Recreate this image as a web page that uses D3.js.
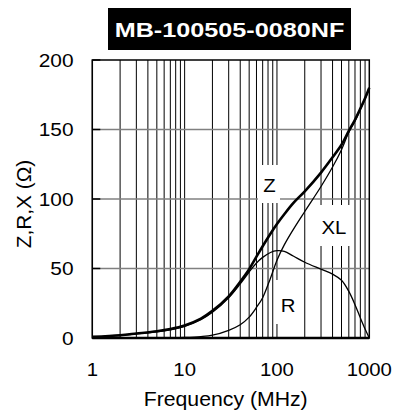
<!DOCTYPE html>
<html>
<head>
<meta charset="utf-8">
<script src="https://cdn.jsdelivr.net/npm/d3@7"></script>
<style>
  html, body { margin: 0; padding: 0; background: #fff; }
  svg text { font-family: "Liberation Sans", Arial, sans-serif; }
</style>
</head>
<body>
<div id="container"></div>
<script>
// values
var title = "MB-100505-0080NF"
var freq = [1, 2, 3, 5, 7, 10, 15, 20, 30, 40, 50, 60, 70, 85, 100, 120, 150, 200, 300, 400, 500, 600, 700, 800, 900, 1000]
var zVals = [0.8, 2, 3.2, 4.8, 6.4, 9, 14, 19.5, 30, 40.5, 49.5, 58.5, 66, 75, 82, 89, 97, 105.5, 119, 130, 139, 149, 157, 165, 172.5, 180]
var rVals = [0.6, 1.8, 3, 4.4, 6, 8.4, 13.2, 18.5, 29, 39, 47.5, 54, 58, 61.5, 62.8, 62.3, 59, 54.5, 49.5, 46, 41.5, 33.5, 24, 14.5, 6.5, 0]
var xlVals = [0, 0, 0, 0.1, 0.2, 0.4, 1, 2, 5.5, 9.5, 15, 22, 29, 43, 56, 67, 78, 91, 109, 123, 135.5, 148, 156, 164.5, 172, 179.5]
var xTicks = [1, 10, 100, 1000]
var yTicks = [0, 50, 100, 150, 200]
var labelNames = ["Z", "XL", "R"]
var labelBoxes = [[258, 165, 22, 38], [315, 205, 37, 41], [275, 280, 25, 44]]
var labelBaselines = [191.6, 234, 311.6]

var W = 393, H = 413
var svg = d3.select("#container").append("svg").attr("width", W).attr("height", H)

var xScale = d3.scaleLog().domain([1, 1000]).range([92.3, 369.3])
var yScale = d3.scaleLinear().domain([0, 200]).range([338, 60])

// vertical grid: every 1..9 of each decade
var gridF = []
for (var k = 0; k < 3; k++) {
  for (var m = 1; m < 10; m++) gridF.push(m * Math.pow(10, k))
}
svg.selectAll(".vgrid").data(gridF).enter().append("line")
  .attr("class", "vgrid")
  .attr("x1", function(d){ return xScale(d) }).attr("x2", function(d){ return xScale(d) })
  .attr("y1", yScale(200)).attr("y2", yScale(0))
  .attr("stroke", "#000").attr("stroke-width", 1)

svg.selectAll(".hgrid").data([50, 100, 150]).enter().append("line")
  .attr("class", "hgrid")
  .attr("x1", xScale(1)).attr("x2", xScale(1000))
  .attr("y1", function(d){ return yScale(d) }).attr("y2", function(d){ return yScale(d) })
  .attr("stroke", "#808080").attr("stroke-width", 1.5)

// short black tick marks on the left inside the frame
svg.selectAll(".ytick").data(yTicks).enter().append("line")
  .attr("x1", xScale(1)).attr("x2", xScale(1) + 8)
  .attr("y1", function(d){ return yScale(d) }).attr("y2", function(d){ return yScale(d) })
  .attr("stroke", "#000").attr("stroke-width", 1.5)

// white boxes behind the curve labels
svg.selectAll(".lblbox").data(labelBoxes).enter().append("rect")
  .attr("x", function(d){ return d[0] }).attr("y", function(d){ return d[1] })
  .attr("width", function(d){ return d[2] }).attr("height", function(d){ return d[3] })
  .attr("fill", "#fff")

// frame
svg.append("rect")
  .attr("x", xScale(1)).attr("y", yScale(200))
  .attr("width", xScale(1000) - xScale(1)).attr("height", yScale(0) - yScale(200))
  .attr("fill", "none").attr("stroke", "#000").attr("stroke-width", 1.5)
svg.append("line")
  .attr("x1", xScale(1)).attr("x2", xScale(1000))
  .attr("y1", yScale(0)).attr("y2", yScale(0))
  .attr("stroke", "#000").attr("stroke-width", 2.5)

var line = d3.line().curve(d3.curveCatmullRom.alpha(0.5))
  .x(function(d){ return xScale(d[0]) })
  .y(function(d){ return yScale(Math.max(0, d[1])) })

function pairs(vals){ return freq.map(function(f, i){ return [f, vals[i]] }) }

svg.append("path").attr("d", line(pairs(rVals)))
  .attr("fill", "none").attr("stroke", "#000").attr("stroke-width", 1.3)
svg.append("path").attr("d", line(pairs(xlVals)))
  .attr("fill", "none").attr("stroke", "#000").attr("stroke-width", 1.3)
svg.append("path").attr("d", line(pairs(zVals)))
  .attr("fill", "none").attr("stroke", "#000").attr("stroke-width", 2.6)

// text helper, glyphs are a bit wider than Liberation Sans
function label(x, y, txt, size, anchor, sx, rot){
  var g = svg.append("g").attr("transform", "translate(" + x + "," + y + ")" + (rot ? " rotate(" + rot + ")" : "") + " scale(" + sx + ",1)")
  return g.append("text").attr("text-anchor", anchor).attr("font-size", size).attr("fill", "#000").text(txt)
}

labelNames.forEach(function(n, i){
  var b = labelBoxes[i]
  label(b[0] + b[2] / 2 + 0.5, labelBaselines[i], n, 18.5, "middle", 1.1)
})

yTicks.forEach(function(t){
  label(73.5, yScale(t) + 6.6, String(t), 18.5, "end", 1.13)
})
xTicks.forEach(function(t){
  label(xScale(t), 376, String(t), 18.5, "middle", 1.1)
})

label(225.7, 406, "Frequency (MHz)", 19.5, "middle", 1.09)
label(31, 204, "Z,R,X (\u03A9)", 19.5, "middle", 1.07, -90)

// title box
svg.append("rect").attr("x", 108).attr("y", 8).attr("width", 243).attr("height", 42).attr("fill", "#000")
label(229.5, 36.7, title, 21, "middle", 1.2).attr("fill", "#fff").attr("font-weight", "bold")
</script>
</body>
</html>
